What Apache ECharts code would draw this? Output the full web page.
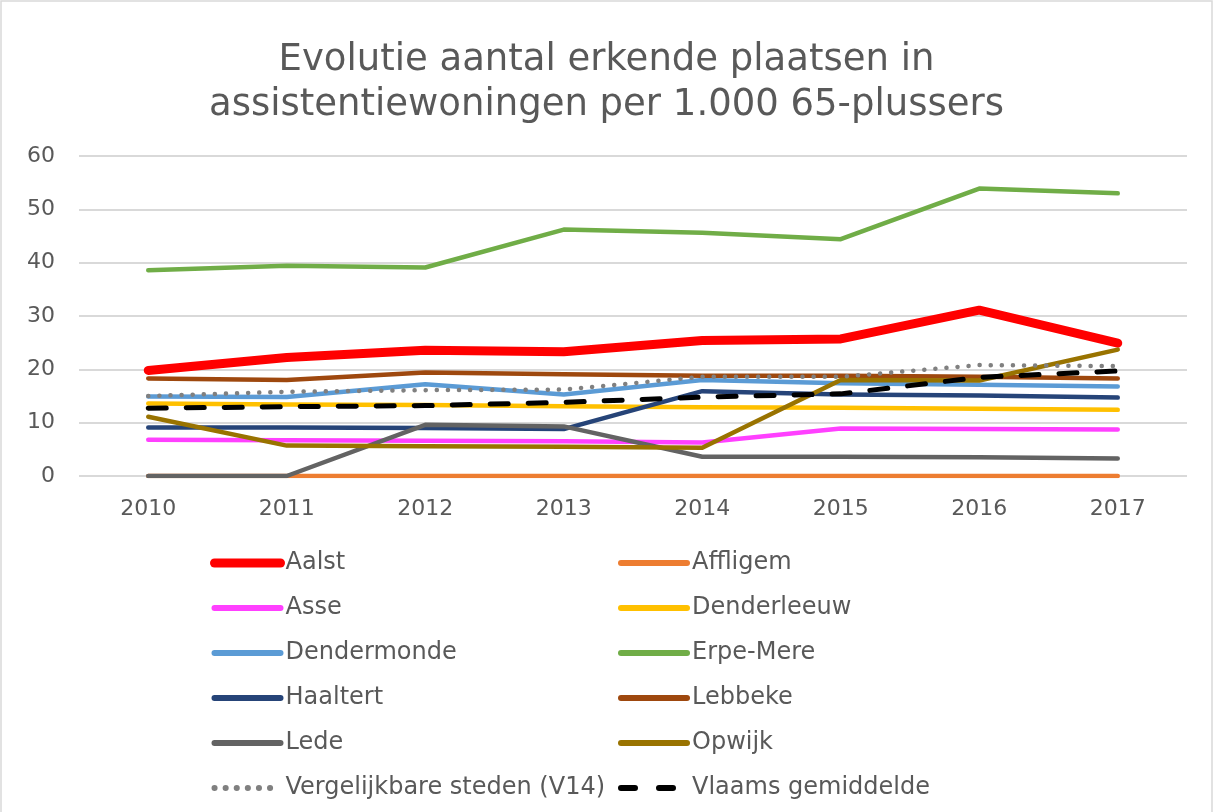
<!DOCTYPE html>
<html><head><meta charset="utf-8">
<script src="https://cdn.jsdelivr.net/npm/echarts@6/dist/echarts.min.js"></script>
<style>html,body{margin:0;padding:0;background:#fff}#c{width:1213px;height:812px}</style>
</head><body><div id="c"></div>
<script>
const years = ['2010','2011','2012','2013','2014','2015','2016','2017'];
const aalst        = [19.8, 22.2, 23.6, 23.3, 25.4, 25.7, 31.1, 24.9];
const affligem     = [0, 0, 0, 0, 0, 0, 0, 0];
const asse         = [6.8, 6.7, 6.6, 6.5, 6.3, 8.9, 8.8, 8.7];
const denderleeuw  = [13.6, 13.4, 13.3, 13.1, 12.9, 12.8, 12.6, 12.4];
const dendermonde  = [14.9, 14.8, 17.2, 15.3, 18.0, 17.4, 17.1, 16.8];
const erpeMere     = [38.6, 39.4, 39.1, 46.2, 45.6, 44.4, 53.9, 53.0];
const haaltert     = [9.1, 9.1, 9.0, 8.8, 15.9, 15.3, 15.1, 14.7];
const lebbeke      = [18.3, 18.0, 19.4, 19.1, 18.8, 18.8, 18.6, 18.3];
const lede         = [0, 0, 9.6, 9.3, 3.6, 3.6, 3.5, 3.3];
const opwijk       = [11.1, 5.7, 5.6, 5.5, 5.3, 18.0, 17.9, 23.7];
const vergelijkbaar= [15.0, 15.8, 16.1, 16.2, 18.6, 18.6, 20.8, 20.6];
const vlaams       = [12.7, 13.0, 13.2, 13.8, 14.8, 15.4, 18.5, 19.7];
const yTicks = {min: 0, max: 60, interval: 10};

const txt = '#595959';
const font = 'DejaVu Sans';
function s(name, data, color, width, type) {
  return {name, type:'line', data, showSymbol:false, symbol:'none', smooth:false,
    lineStyle:{color, width, type: type || 'solid', cap:'round', join:'round'},
    itemStyle:{color}, emphasis:{disabled:true}, z: 2};
}
const series = [
  s('Aalst', aalst, '#FF0000', 9),
  s('Affligem', affligem, '#ED7D31', 4.5),
  s('Asse', asse, '#FF40FF', 4.5),
  s('Denderleeuw', denderleeuw, '#FFC000', 4.5),
  s('Dendermonde', dendermonde, '#5B9BD5', 4.5),
  s('Erpe-Mere', erpeMere, '#70AD47', 4.5),
  s('Haaltert', haaltert, '#264478', 4.5),
  s('Lebbeke', lebbeke, '#9E480E', 4.5),
  s('Lede', lede, '#636363', 4.5),
  s('Opwijk', opwijk, '#997300', 4.5),
  s('Vergelijkbare steden (V14)', vergelijkbaar, '#808080', 4.5, [0.1, 11]),
  s('Vlaams gemiddelde', vlaams, '#000000', 5, [18, 20])
];
function legendItems(names) {
  return names.map(n => {
    const se = series.find(x => x.name === n);
    return {name: n,
      lineStyle: {color: se.lineStyle.color, width: n === 'Aalst' ? 9 : 6,
        type: n === 'Vlaams gemiddelde' ? [14, 24] : se.lineStyle.type, cap: 'round'},
      itemStyle: {color: se.lineStyle.color, opacity: 0}};
  });
}
const legendCommon = {orient:'vertical', itemWidth:66, itemHeight:14, itemGap:19,
  textStyle:{fontFamily:font, fontSize:24, color:txt, lineHeight:26, padding:[0,0,0,0]},
  selectedMode:false};
const chart = echarts.init(document.getElementById('c'), null, {renderer:'canvas'});
chart.setOption({
  animation:false,
  backgroundColor:'#fff',
  title:{text:'Evolutie aantal erkende plaatsen in\nassistentiewoningen per 1.000 65-plussers',
    left:'center', top:33, textStyle:{fontFamily:font, fontSize:37, fontWeight:'normal', color:txt, lineHeight:45}},
  grid:{left:79, right:26, top:156, bottom:336, containLabel:false},
  xAxis:{type:'category', data:years, boundaryGap:true,
    axisLine:{show:false}, axisTick:{show:false},
    axisLabel:{fontFamily:font, fontSize:22, color:txt, margin:22}},
  yAxis:{type:'value', min:yTicks.min, max:yTicks.max, interval:yTicks.interval,
    axisLine:{show:false}, axisTick:{show:false},
    axisLabel:{fontFamily:font, fontSize:22, color:txt, margin:24},
    splitLine:{lineStyle:{color:'#D9D9D9', width:2}}},
  legend:[
    Object.assign({}, legendCommon, {left:205, top:545,
      data:legendItems(['Aalst','Asse','Dendermonde','Haaltert','Lede','Vergelijkbare steden (V14)'])}),
    Object.assign({}, legendCommon, {left:613, top:545,
      data:legendItems(['Affligem','Denderleeuw','Erpe-Mere','Lebbeke','Opwijk','Vlaams gemiddelde'])})
  ],
  graphic:[{type:'rect', shape:{x:1, y:1, width:1211, height:830}, style:{fill:'none', stroke:'#D9D9D9', lineWidth:1.5}, silent:true}],
  series
});
</script></body></html>
